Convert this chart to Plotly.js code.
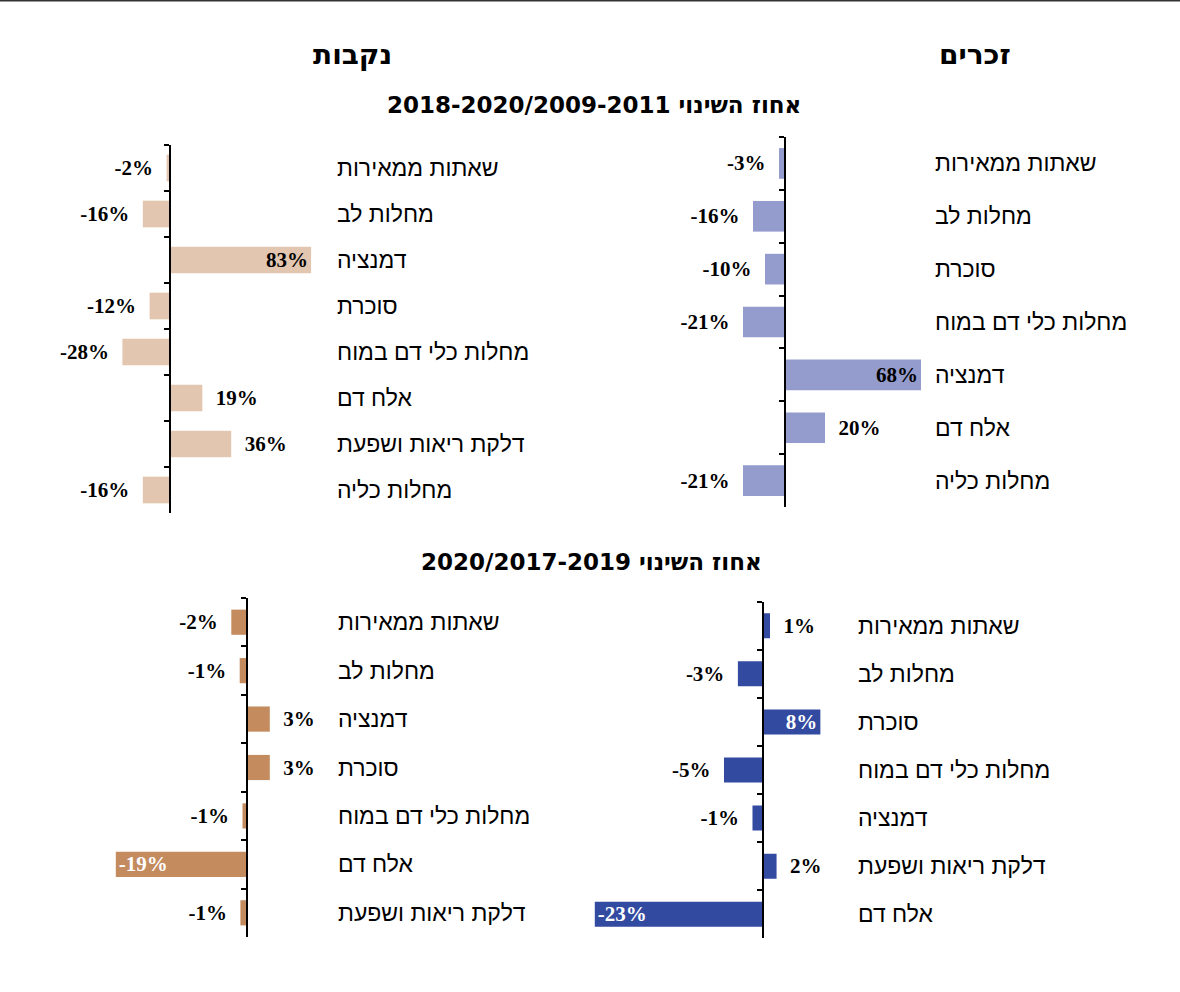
<!DOCTYPE html>
<html>
<head>
<meta charset="utf-8">
<script src="https://cdn.plot.ly/plotly-3.0.1.min.js"></script>
<style>html,body{margin:0;padding:0;background:#fff;}#chart{width:1180px;height:992px;}</style>
</head>
<body>
<div id="chart"></div>
<script>
// ---- data ----
const titleFemales = 'נקבות';
const titleMales = 'זכרים';
const subtitleLong = '2018-2020/2009-2011 אחוז השינוי';
const subtitleShort = '2020/2017-2019 אחוז השינוי';

const femalesLongCats = ['שאתות ממאירות', 'מחלות לב', 'דמנציה', 'סוכרת', 'מחלות כלי דם במוח', 'אלח דם', 'דלקת ריאות ושפעת', 'מחלות כליה'];
const femalesLongVals = [-2, -16, 83, -12, -28, 19, 36, -16];

const malesLongCats = ['שאתות ממאירות', 'מחלות לב', 'סוכרת', 'מחלות כלי דם במוח', 'דמנציה', 'אלח דם', 'מחלות כליה'];
const malesLongVals = [-3, -16, -10, -21, 68, 20, -21];

const femalesShortCats = ['שאתות ממאירות', 'מחלות לב', 'דמנציה', 'סוכרת', 'מחלות כלי דם במוח', 'אלח דם', 'דלקת ריאות ושפעת'];
const femalesShortVals = [-2.2, -1.0, 3.3, 3.3, -0.6, -18.7, -0.9];

const malesShortCats = ['שאתות ממאירות', 'מחלות לב', 'סוכרת', 'מחלות כלי דם במוח', 'דמנציה', 'דלקת ריאות ושפעת', 'אלח דם'];
const malesShortVals = [1.0, -3.4, 7.9, -5.3, -1.4, 1.9, -23.0];

// ---- layout helpers ----
const W = 1180, H = 992;
const px = v => v / W;
const py = v => 1 - v / H;
const PAD = '\u2002';

const panels = [
  {cats: femalesLongCats, vals: femalesLongVals, color: '#E2C6B0', insideColor: '#000000', insideMin: 50,
   zero: 170, scale: 1.7, left: 40, right: 330, top: 145, bottom: 513, labelX: 335, width: 0.58},
  {cats: malesLongCats, vals: malesLongVals, color: '#949BCD', insideColor: '#000000', insideMin: 50,
   zero: 785, scale: 2.0, left: 640, right: 928, top: 137, bottom: 507, labelX: 933, width: 0.58},
  {cats: femalesShortCats, vals: femalesShortVals, color: '#C38B5E', insideColor: '#FFFFFF', insideMin: 7,
   zero: 246.7, scale: 7.0, left: 100, right: 330, top: 598, bottom: 937, labelX: 335.5, width: 0.52},
  {cats: malesShortCats, vals: malesShortVals, color: '#324AA0', insideColor: '#FFFFFF', insideMin: 7,
   zero: 762.7, scale: 7.3, left: 580, right: 850, top: 601.7, bottom: 938.3, labelX: 856, width: 0.52}
];

const traces = [];
const layout = {
  width: W, height: H,
  margin: {l: 0, r: 0, t: 0, b: 0},
  paper_bgcolor: '#ffffff', plot_bgcolor: 'rgba(0,0,0,0)',
  showlegend: false,
  font: {family: 'Liberation Sans, Arial, sans-serif', color: '#000'},
  annotations: [],
  shapes: [{type: 'line', xref: 'paper', yref: 'paper', x0: 0, x1: 1, y0: 1, y1: 1,
            line: {color: '#333', width: 3}}]
};

const valFont = {family: 'Liberation Serif, Times New Roman, serif', size: 21, color: '#000', weight: 'bold'};
const catFont = {family: 'Liberation Sans, Arial, sans-serif', size: 23, color: '#000'};

panels.forEach((p, i) => {
  const n = i + 1;
  const inside = p.vals.map(v => Math.abs(v) >= p.insideMin);
  traces.push({
    type: 'bar', orientation: 'h',
    x: p.vals, y: p.cats,
    xaxis: 'x' + n, yaxis: 'y' + n,
    width: p.width,
    marker: {color: p.color, line: {width: 0}},
    text: p.vals.map((v, k) => {
      const t = Math.round(v) + '%';
      if (inside[k]) return t;
      return v < 0 ? t + PAD : PAD + t;
    }),
    texttemplate: '%{text}',
    textposition: inside.map(b => b ? 'inside' : 'outside'),
    insidetextanchor: 'end',
    constraintext: 'none',
    cliponaxis: false,
    textfont: valFont,
    insidetextfont: Object.assign({}, valFont, {color: p.insideColor}),
    outsidetextfont: valFont,
    hoverinfo: 'skip'
  });
  layout['xaxis' + n] = {
    domain: [px(p.left), px(p.right)],
    range: [(p.left - p.zero) / p.scale, (p.right - p.zero) / p.scale],
    anchor: 'y' + n,
    visible: false, fixedrange: true
  };
  layout['yaxis' + n] = {
    domain: [py(p.bottom), py(p.top)],
    type: 'category',
    range: [p.cats.length - 0.5, -0.5],
    anchor: 'free', position: px(p.zero),
    showline: true, linecolor: '#000', linewidth: 2,
    ticks: 'outside', tickson: 'boundaries', ticklen: 5, tickwidth: 2, tickcolor: '#000',
    showticklabels: false, showgrid: false, zeroline: false, fixedrange: true
  };
  p.cats.forEach(c => {
    layout.annotations.push({
      text: c, xref: 'paper', yref: 'y' + n, x: px(p.labelX), y: c,
      xanchor: 'left', yanchor: 'middle', showarrow: false, font: catFont
    });
  });
});

const titleFont = {family: 'DejaVu Sans, Liberation Sans, sans-serif', size: 28, color: '#000', weight: 'bold'};
const subFont = {family: 'DejaVu Sans, Liberation Sans, sans-serif', size: 23, color: '#000', weight: 'bold'};
layout.annotations.push(
  {text: titleFemales, xref: 'paper', yref: 'paper', x: px(352), y: py(54), xanchor: 'center', yanchor: 'middle', showarrow: false, font: titleFont},
  {text: titleMales, xref: 'paper', yref: 'paper', x: px(975), y: py(54), xanchor: 'center', yanchor: 'middle', showarrow: false, font: titleFont},
  {text: subtitleLong, xref: 'paper', yref: 'paper', x: px(594), y: py(105), xanchor: 'center', yanchor: 'middle', showarrow: false, font: subFont},
  {text: subtitleShort, xref: 'paper', yref: 'paper', x: px(591), y: py(562), xanchor: 'center', yanchor: 'middle', showarrow: false, font: subFont}
);

Plotly.newPlot('chart', traces, layout, {staticPlot: true, displayModeBar: false});
</script>
</body>
</html>
